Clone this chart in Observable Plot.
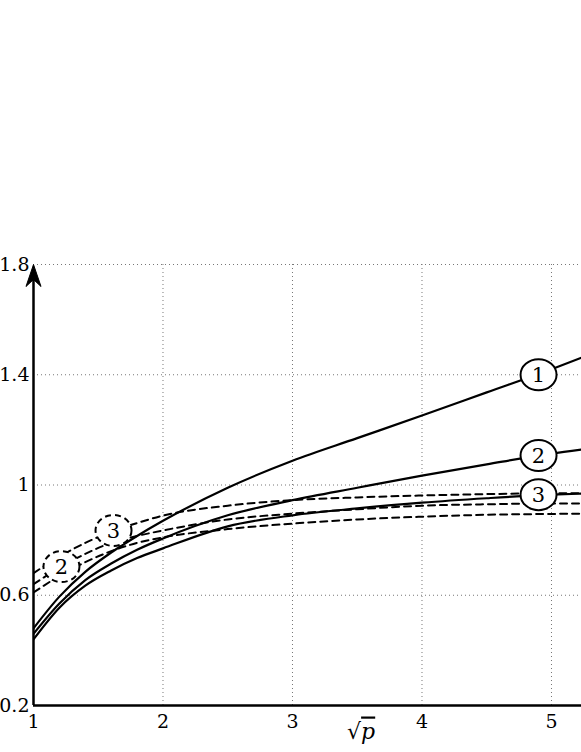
<!DOCTYPE html>
<html>
<head>
<meta charset="utf-8">
<script src="https://cdn.jsdelivr.net/npm/d3@7"></script>
<script src="https://cdn.jsdelivr.net/npm/@observablehq/plot@0.6"></script>
<style>
  html, body { margin: 0; padding: 0; background: #fff; }
  #chart svg { display: block; }
  #chart svg text { font-family: "DejaVu Serif", serif !important; }
</style>
</head>
<body>
<div id="chart"></div>
<script>
// sqrt(p) sample positions
const xs = [1, 1.2, 1.4, 1.6, 1.8, 2, 2.5, 3, 3.5, 4, 4.5, 5, 5.25];
// solid curves
const solid1 = [0.48, 0.595, 0.685, 0.755, 0.815, 0.87, 0.99, 1.088, 1.17, 1.252, 1.336, 1.42, 1.465];
const solid2 = [0.46, 0.57, 0.655, 0.715, 0.765, 0.806, 0.89, 0.945, 0.99, 1.034, 1.075, 1.114, 1.13];
const solid3 = [0.44, 0.555, 0.635, 0.69, 0.735, 0.77, 0.85, 0.89, 0.915, 0.936, 0.952, 0.965, 0.969];
// dashed curves
const dash1 = [0.68, 0.74, 0.79, 0.83, 0.862, 0.889, 0.925, 0.945, 0.955, 0.962, 0.967, 0.97, 0.97];
const dash2 = [0.64, 0.70, 0.75, 0.79, 0.815, 0.835, 0.875, 0.896, 0.912, 0.925, 0.93, 0.933, 0.933];
const dash3 = [0.61, 0.67, 0.72, 0.76, 0.79, 0.81, 0.84, 0.86, 0.875, 0.885, 0.892, 0.895, 0.896];

// circled labels
const labelText = ["1", "2", "3", "2", "3"];
const labelX = [4.9, 4.9, 4.9, 1.216, 1.618];
const labelY = [1.40, 1.107, 0.965, 0.704, 0.835];
const labelDashed = [false, false, false, true, true];

const xTicks = [1, 2, 3, 4, 5];
const yTicks = [0.2, 0.6, 1, 1.4, 1.8];
const xGrid = [2, 3, 4, 5];
const yGrid = [0.6, 1, 1.4, 1.8];
const xLabel = "√p";

const toRows = (ys, name) => xs.map((x, i) => ({x, y: ys[i], name}));
const solidRows = [...toRows(solid1, "s1"), ...toRows(solid2, "s2"), ...toRows(solid3, "s3")];
const dashRows = [...toRows(dash1, "d1"), ...toRows(dash2, "d2"), ...toRows(dash3, "d3")];
const labels = labelText.map((t, i) => ({t, x: labelX[i], y: labelY[i], dashed: labelDashed[i]}));

const ellipse = {
  draw(ctx) {
    const rx = 18, ry = 15.5, kx = rx * 0.5523, ky = ry * 0.5523;
    ctx.moveTo(rx, 0);
    ctx.bezierCurveTo(rx, ky, kx, ry, 0, ry);
    ctx.bezierCurveTo(-kx, ry, -rx, ky, -rx, 0);
    ctx.bezierCurveTo(-rx, -ky, -kx, -ry, 0, -ry);
    ctx.bezierCurveTo(kx, -ry, rx, -ky, rx, 0);
    ctx.closePath();
  }
};
const stealth = {
  draw(ctx) {
    ctx.moveTo(0, 0);
    ctx.lineTo(7.5, 22);
    ctx.lineTo(0, 15);
    ctx.lineTo(-7.5, 22);
    ctx.closePath();
  }
};

const font = "DejaVu Serif";

const plot = Plot.plot({
  width: 581,
  height: 752,
  marginTop: 264,
  marginLeft: 33,
  marginRight: 0,
  marginBottom: 47,
  style: "font-family: 'DejaVu Serif', serif; font-size: 19px; color: #000; background: #fff;",
  x: {domain: [1, 5.2317]},
  y: {domain: [0.2, 1.8]},
  marks: [
    Plot.gridX(xGrid, {stroke: "#777", strokeOpacity: 1, strokeWidth: 1, strokeDasharray: "1,3"}),
    Plot.gridY(yGrid, {stroke: "#777", strokeOpacity: 1, strokeWidth: 1, strokeDasharray: "1,3"}),
    Plot.line(dashRows, {x: "x", y: "y", z: "name", curve: "monotone-x", stroke: "#000", strokeWidth: 2, strokeDasharray: "7,5", clip: true}),
    Plot.line(solidRows, {x: "x", y: "y", z: "name", curve: "monotone-x", stroke: "#000", strokeWidth: 2.2, clip: true}),
    Plot.dot(labels.filter(d => !d.dashed), {x: "x", y: "y", symbol: ellipse, fill: "#fff", stroke: "#000", strokeWidth: 2}),
    Plot.dot(labels.filter(d => d.dashed), {x: "x", y: "y", symbol: ellipse, fill: "#fff", stroke: "#000", strokeWidth: 2, strokeDasharray: "6,4"}),
    Plot.text(labels, {x: "x", y: "y", text: "t", fontFamily: font, fontSize: 21, fill: "#000", dy: 1}),
    Plot.ruleY([0.2], {stroke: "#000", strokeWidth: 2.5}),
    Plot.ruleX([1], {y1: 0.2, y2: 1.75, stroke: "#000", strokeWidth: 2.5}),
    Plot.dot([1.8], {x: () => 1, y: d => d, symbol: stealth, fill: "#000", stroke: "#000", strokeWidth: 1}),
    Plot.axisY({ticks: yTicks, tickSize: 0, tickPadding: 4, tickFormat: d => String(d), label: null, fontSize: 19, fontFamily: font}),
    Plot.axisX({ticks: xTicks, tickSize: 0, tickPadding: 9, tickFormat: d => String(d), label: null, fontSize: 19, fontFamily: font}),
    Plot.text([xLabel], {x: () => 3.53, frameAnchor: "bottom", dy: 33, text: d => d, fontFamily: font, fontSize: 22, fill: "#000"})
  ]
});

document.getElementById("chart").appendChild(plot);

// style the axis label: italic p under a radical bar
d3.select(plot).selectAll("text").filter(function() { return this.textContent === xLabel; })
  .each(function() {
    const t = d3.select(this);
    t.text(null);
    t.append("tspan").text("√");
    t.append("tspan").attr("font-style", "italic").style("text-decoration", "overline").text("p");
  });
</script>
</body>
</html>
